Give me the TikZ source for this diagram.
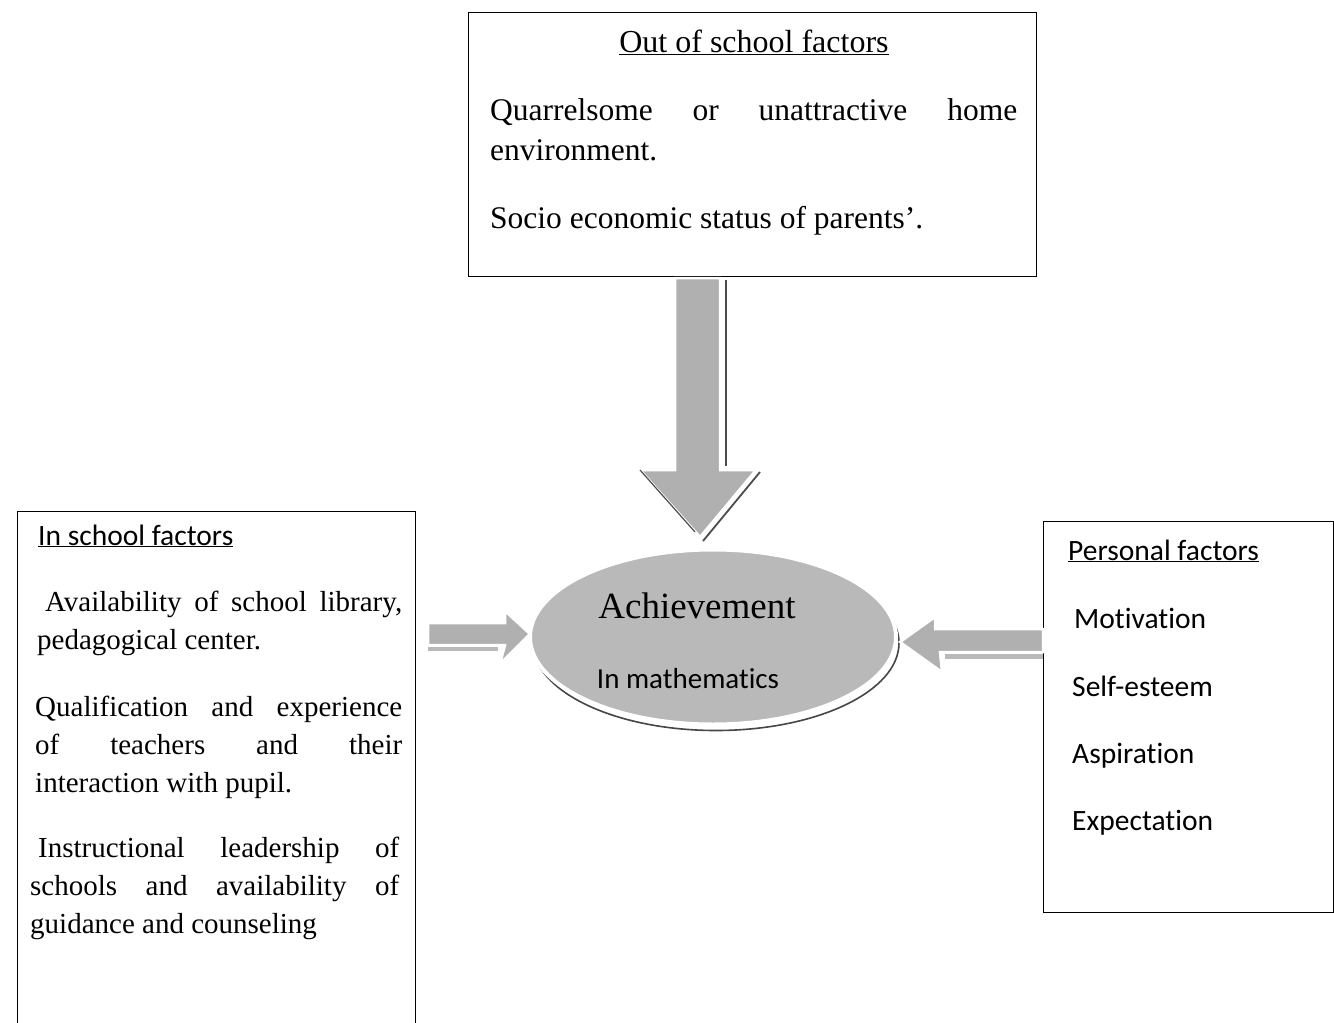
\documentclass[tikz,border=0pt]{standalone}
\usepackage{fontspec}
\setmainfont{Liberation Serif}
\newfontfamily\calib[Ligatures=NoCommon]{Carlito}
\usetikzlibrary{shapes.geometric}
\hyphenpenalty=10000
\begin{document}
\begin{tikzpicture}[x=1pt,y=-1pt,
  box/.style={draw=black,line width=1.4pt,inner sep=0pt},
  para/.style={anchor=base west,inner sep=0pt,align=justify},
  arrowfill/.style={fill=gray!62,draw=white,line width=2.5pt,line join=miter},
  shade/.style={draw=gray!60!black,line width=1.8pt},
  serifbody/.style={font=\fontsize{31.5}{40}\selectfont},
  leftbody/.style={font=\fontsize{29}{38}\selectfont},
  sansitem/.style={font=\calib\fontsize{29.5}{34}\selectfont,anchor=base west,inner sep=0pt}]
\clip (0,0) rectangle (1334,1023);
\fill[white] (0,0) rectangle (1334,1023);

% boxes
\node[box,minimum width=568pt,minimum height=264pt,anchor=north west] (outbox) at (468,12) {};
\node[box,minimum width=398pt,minimum height=520pt,anchor=north west] (inbox) at (17,511) {};
\node[box,minimum width=290pt,minimum height=391pt,anchor=north west] (perbox) at (1043,521) {};

% down arrow
\draw[shade] (726,280) -- (726,466);
\draw[shade] (760,472) -- (703,541);
\draw[arrowfill] (675,278) -- (720,278) -- (720,470) -- (756,470) -- (700,537) -- (640,470) -- (675,470) -- cycle;
\draw[line width=1.2pt,black!70] (640,470) -- (695,532);

% ellipse
\node[ellipse,minimum width=366pt,minimum height=175pt,draw=gray!55!black,line width=1.6pt] (achs) at (716,643) {};
\node[ellipse,minimum width=366pt,minimum height=175pt,fill=gray!55,draw=white,line width=4pt] (ach) at (713,637) {};
\node[anchor=base,inner sep=0pt,font=\fontsize{37}{42}\selectfont] (achtxt) at (697,618) {Achievement};
\node[anchor=base,inner sep=0pt,font=\calib\fontsize{29}{34}\selectfont] (mathtxt) at (688,688) {In mathematics};

% left arrow
\draw[line width=4pt,gray!55] (428,649) -- (498,649);
\draw[arrowfill] (428,623) -- (505,623) -- (505,611) -- (530,634) -- (500,664) -- (505,645) -- (428,645) -- cycle;
% right arrow
\draw[line width=5pt,gray!55] (1043,656) -- (945,656);
\draw[arrowfill] (1043,629) -- (935,629) -- (935,617) -- (900,642) -- (942,672) -- (940,652) -- (1043,652) -- cycle;

% top box text
\node[anchor=base,inner sep=0pt,font=\fontsize{32}{38}\selectfont] (outtitle) at (754,52) {\underline{Out of school factors}};
\node[para,serifbody,text width=527pt] (out1) at (490,120) {Quarrelsome or unattractive home\linebreak environment.};
\node[para,serifbody,text width=527pt] (out2) at (490,228) {Socio economic status of parents'.};

% left box text
\node[anchor=base west,inner sep=0pt,font=\calib\fontsize{29.5}{34}\selectfont] (intitle) at (38,545) {\underline{In school factors}};
\node[para,leftbody,text width=365pt] (in1) at (37,611) {\hspace*{8pt}Availability of school library,\linebreak pedagogical center.};
\node[para,leftbody,text width=367pt] (in2) at (35,716) {Qualification and experience\linebreak of teachers and their\linebreak interaction with pupil.};
\node[para,leftbody,text width=369pt] (in3) at (30,857) {\hspace*{8pt}Instructional leadership of\linebreak schools and availability of\linebreak guidance and counseling};

% right box text
\node[anchor=base west,inner sep=0pt,font=\calib\fontsize{29.5}{34}\selectfont] (pertitle) at (1068,560) {\underline{Personal factors}};
\node[sansitem] (p1) at (1074,628) {Motivation};
\node[sansitem] (p2) at (1072,696) {Self-esteem};
\node[sansitem] (p3) at (1072,763) {Aspiration};
\node[sansitem] (p4) at (1072,830) {Expectation};
\end{tikzpicture}
\end{document}
